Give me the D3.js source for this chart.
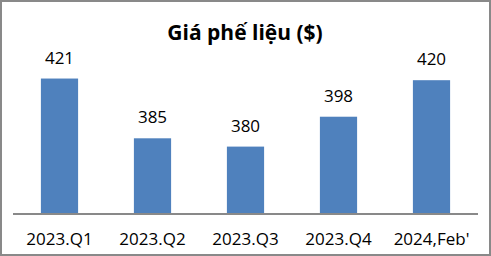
<!doctype html>
<html>
    <head>
        <script src="https://d3js.org/d3.v7.min.js"></script>
        <style type="text/css">
            body    { margin:0; background:#fff; }
            svg     { display:block; }
            text    { font-family:"Open Sans","Liberation Sans",Arial,sans-serif; fill:#000; }
            .title  { font-size:21px; font-weight:bold; }
            .val    { font-size:17px; }
            .cat    { font-size:17px; }
        </style>
    </head>
    <body>
        <script>
            //chart data
            var categories = ["2023.Q1","2023.Q2","2023.Q3","2023.Q4","2024,Feb'"];
            var prices = [421,385,380,398,420];
            var yDomain = [340,440];

            var width = 491, height = 256;
            var svg = d3.select("body").append("svg")
                .attr("width",width).attr("height",height);

            //outer frame
            svg.append("rect")
                .attr("x",1).attr("y",1)
                .attr("width",width-2).attr("height",height-2)
                .attr("fill","#fff").attr("stroke","#898989").attr("stroke-width",2);

            //plot area
            var left = 13, right = 478, base = 213;
            var x = d3.scaleBand().domain(categories).range([left,right]).paddingInner(0.6).paddingOuter(0.3);
            var y = d3.scaleLinear().domain(yDomain).range([base, base-166]);

            svg.append("text")
                .attr("class","title")
                .attr("x",245).attr("y",40)
                .attr("text-anchor","middle")
                .text("Giá phế liệu ($)");

            svg.selectAll("rect.bar")
                .data(prices)
                .enter()
                .append("rect")
                .attr("class","bar")
                .attr("x",function(d,i) { return x(categories[i]); })
                .attr("y",function(d) { return y(d); })
                .attr("width",x.bandwidth())
                .attr("height",function(d) { return base-y(d); })
                .attr("fill","#4f81bd");

            svg.selectAll("text.val")
                .data(prices)
                .enter()
                .append("text")
                .attr("class","val")
                .attr("text-anchor","middle")
                .attr("x",function(d,i) { return x(categories[i])+x.bandwidth()/2; })
                .attr("y",function(d) { return y(d)-15; })
                .text(function(d) { return d; });

            //baseline
            svg.append("line")
                .attr("x1",left).attr("x2",right)
                .attr("y1",base+1).attr("y2",base+1)
                .attr("stroke","#898989").attr("stroke-width",2);

            svg.selectAll("text.cat")
                .data(categories)
                .enter()
                .append("text")
                .attr("class","cat")
                .attr("text-anchor","middle")
                .attr("x",function(d) { return x(d)+x.bandwidth()/2; })
                .attr("y",245)
                .text(function(d) { return d; });
        </script>
    </body>
</html>
